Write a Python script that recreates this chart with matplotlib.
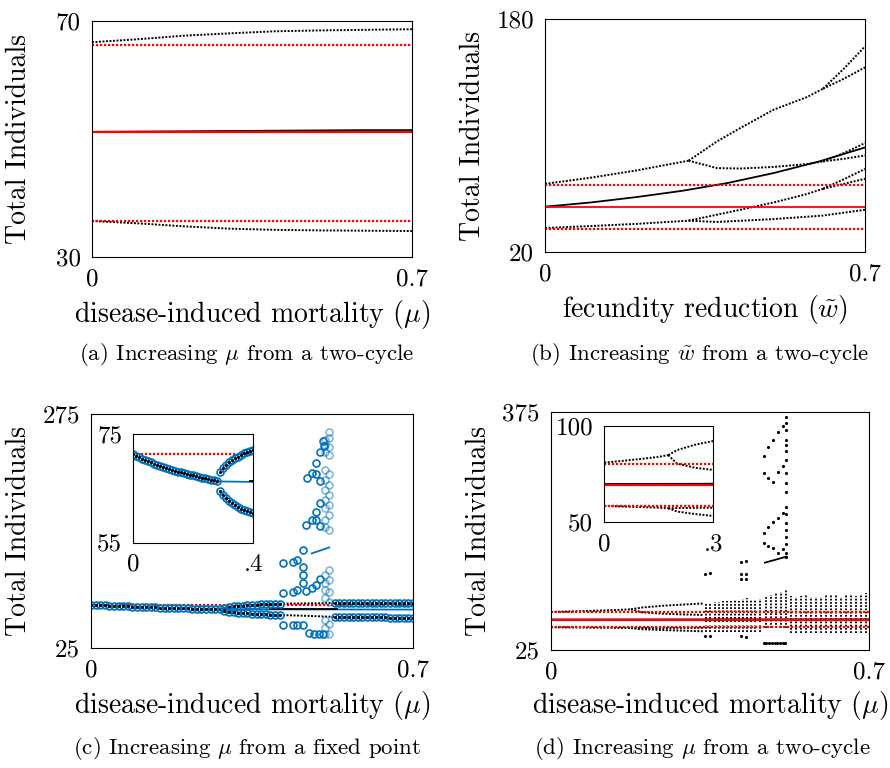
import numpy as np
import matplotlib
matplotlib.use('Agg')
import matplotlib.pyplot as plt

plt.rcParams['font.family'] = 'cmr10'
plt.rcParams['mathtext.fontset'] = 'cm'
plt.rcParams['axes.formatter.use_mathtext'] = True

BLUE = '#0072BD'
RED = '#FF0000'
DOT = (0, (1, 0.8))
FS_TICK = 18
FS_LAB = 20
FS_CAP = 16.5

# ---------------- (a) increasing mu from a two-cycle
a_mu = [0, 0.1, 0.2, 0.3, 0.4, 0.5, 0.6, 0.7]
a_upper = [66.4, 66.9, 67.5, 67.9, 68.25, 68.4, 68.5, 68.6]
a_lower = [36.1, 35.7, 35.2, 34.8, 34.6, 34.5, 34.45, 34.4]
a_mean = [51.2, 51.25, 51.3, 51.35, 51.4, 51.45, 51.5, 51.5]
a_ref = [66.0, 51.2, 36.1]   # red: upper, mean, lower of original two-cycle

# ---------------- (b) increasing w from a two-cycle
b_w_pre = [0, 0.1, 0.2, 0.314]
b_up_pre = [66.8, 71.0, 76.0, 82.7]
b_lo_pre = [36.5, 37.8, 39.3, 41.5]
b_w_mid = [0.314, 0.376, 0.427, 0.5, 0.573, 0.608]
b_A = [82.7, 95.9, 105.1, 117.7, 126.4, 132.1]
b_B = [82.7, 77.6, 77.3, 78.4, 80.4, 82.2]
b_D = [41.5, 45.6, 49.0, 54.0, 59.8, 63.4]
b_w_E = [0.314, 0.376, 0.5, 0.608, 0.7]
b_E = [41.5, 40.6, 42.6, 45.0, 49.0]
b_w_late = [0.608, 0.654, 0.7]
b_A1 = [132.1, 146.0, 161.2]
b_A2 = [132.1, 139.0, 146.8]
b_B1 = [82.2, 88.0, 94.8]
b_B2 = [82.2, 84.0, 86.3]
b_D1 = [63.4, 70.0, 77.0]
b_D2 = [63.4, 66.8, 70.3]
b_w_mean = [0, 0.1, 0.2, 0.3, 0.4, 0.5, 0.6, 0.7]
b_mean = [51.1, 54.0, 57.7, 62.0, 67.4, 74.2, 82.2, 91.8]
b_ref = [66.2, 51.1, 36.0]

# ---------------- (c) increasing mu from a fixed point
c_mu1 = np.round(np.arange(0, 0.285, 0.01), 2)
c_p1 = [71.3, 71.0, 70.8, 70.5, 70.3, 70.0, 69.8, 69.6, 69.4, 69.2,
        69.0, 68.8, 68.6, 68.5, 68.3, 68.1, 68.0, 67.8, 67.7, 67.5,
        67.4, 67.3, 67.1, 67.0, 66.9, 66.8, 66.6, 66.5, 66.4]
c_mu2 = np.round(np.arange(0.29, 0.415, 0.01), 2)
c_p2_up = [68.0, 68.8, 69.4, 69.8, 70.2, 70.6, 70.9, 71.2, 71.5, 71.7, 71.9, 72.1, 72.3]
c_p2_lo = [64.6, 63.8, 63.2, 62.7, 62.3, 61.9, 61.6, 61.3, 61.0, 60.8, 60.6, 60.4, 60.2]
c_mu3 = np.round(np.arange(0.53, 0.705, 0.01), 2)
c_p3_up = [73.0, 73.0, 73.1, 73.1, 73.1, 73.2, 73.2, 73.2, 73.3, 73.3,
           73.3, 73.3, 73.4, 73.4, 73.4, 73.5, 73.5, 73.5]
c_p3_lo = [58.2, 58.1, 58.0, 57.9, 57.9, 57.8, 57.8, 57.7, 57.7, 57.6,
           57.6, 57.6, 57.5, 57.5, 57.5, 57.5, 57.4, 57.4]
c_mu_unst2 = [0.41, 0.47, 0.53]
c_unst2_up = [72.3, 72.6, 73.0]
c_unst2_lo = [60.2, 59.3, 58.2]
c_mu_fp = [0.283, 0.7]
c_fp = [66.3, 66.0]
c_mu_fpk = [0.39, 0.535]
c_fpk = [66.4, 66.4]
c_ref = 71.3
c_chaos_mu = [0.418, 0.418, 0.418, 0.439, 0.439, 0.439, 0.449, 0.449, 0.449,
              0.460, 0.460, 0.460, 0.460, 0.460, 0.468, 0.468, 0.469, 0.473,
              0.480, 0.480, 0.480, 0.484, 0.490, 0.490, 0.490, 0.490, 0.490,
              0.498, 0.498, 0.498, 0.498, 0.498, 0.495, 0.505, 0.505, 0.507]
c_chaos_val = [115.3, 83.9, 49.3, 117.0, 84.9, 49.3, 118.9, 86.8, 49.3,
               129.5, 111.7, 102.8, 94.6, 49.3, 86.0, 156.3, 206.2, 40.5,
               88.6, 161.6, 212.2, 39.7, 92.1, 161.6, 169.9, 210.5, 222.9,
               98.2, 155.2, 179.5, 203.7, 234.7, 39.7, 39.7, 246.0, 241.0]
c_light_mu = [0.509] * 17 + [0.518] * 16
c_light_val = [247.2, 241.8, 234.4, 215.1, 204.4, 193.7, 183.0, 174.5, 161.6,
               154.1, 102.8, 94.3, 86.8, 78.2, 54.7, 46.1, 39.7,
               255.7, 249.3, 239.7, 231.1, 210.8, 199.1, 188.4, 177.7, 167.0,
               151.0, 108.2, 97.5, 84.6, 73.9, 50.4, 39.7]
c_seg_mu = [0.480, 0.518]
c_seg_val = [126.0, 132.4]

# ---------------- (d) increasing mu from a two-cycle
d_mu_pre = [0, 0.05, 0.1, 0.15, 0.176]
d_up_pre = [81.0, 81.9, 82.9, 84.0, 84.9]
d_lo_pre = [58.5, 58.2, 57.9, 57.6, 57.3]
d_mu_split = [0.176, 0.2, 0.25, 0.3, 0.335]
d_uu = [84.9, 87.5, 90.3, 92.2, 93.5]
d_ul = [84.9, 80.5, 78.3, 77.2, 76.5]
d_lu = [57.3, 57.4, 57.5, 57.6, 57.7]
d_ll = [57.3, 55.6, 54.3, 53.3, 52.5]
d_mu_mean = [0, 0.7]
d_mean = [69.9, 70.2]
d_ref = [80.4, 69.6, 58.6]
# vertical dotted bands of the chaotic region: (mu, low, high)
d_band_mu = [0.342, 0.351, 0.360, 0.369, 0.378, 0.387, 0.396, 0.405, 0.414,
             0.423, 0.432, 0.441, 0.450, 0.459,
             0.342, 0.351, 0.360, 0.369, 0.378, 0.387, 0.396, 0.405, 0.414,
             0.423, 0.432, 0.441, 0.450, 0.459,
             0.474, 0.485, 0.496, 0.507, 0.518,
             0.529, 0.540, 0.551, 0.562, 0.573, 0.584, 0.595, 0.606, 0.617,
             0.628, 0.639, 0.650, 0.661, 0.672, 0.683, 0.694]
d_band_hi = [93.7, 94.7, 96.2, 96.2, 96.7, 97.2, 97.7, 98.6, 97.7, 99.6,
             101.1, 98.6, 99.0, 100.0,
             61.8, 61.8, 61.8, 61.8, 61.8, 61.8, 61.8, 61.8, 61.8, 61.8,
             61.8, 61.8, 61.8, 61.8,
             102.5, 105.9, 109.4, 111.0, 114.7,
             104.5, 103.5, 104.5, 105.9, 103.5, 102.5, 103.5, 107.4, 107.4,
             105.9, 102.5, 107.4, 105.9, 104.5, 107.4, 109.4]
d_band_lo = [66.6] * 14 + [52.0] * 14 + [57.0] * 5 + [49.5] * 16
d_dot_mu = [0.468, 0.478, 0.489, 0.500, 0.510, 0.518,
            0.468, 0.478, 0.489, 0.500, 0.510, 0.518,
            0.518, 0.518, 0.518, 0.518, 0.518, 0.518, 0.518, 0.518,
            0.468, 0.478, 0.489, 0.500, 0.510, 0.518,
            0.468, 0.478, 0.489, 0.500, 0.510, 0.518,
            0.518, 0.518, 0.518, 0.518, 0.518, 0.518,
            0.339, 0.350, 0.419, 0.430, 0.419, 0.430, 0.419, 0.430,
            0.339, 0.350, 0.419, 0.430,
            0.468, 0.474, 0.480, 0.486, 0.492, 0.498, 0.504, 0.510, 0.516]
d_dot_val = [309.7, 322.9, 334.2, 345.0, 354.8, 367.6,
             285.1, 277.8, 272.8, 286.1, 295.9, 304.8,
             358.8, 348.9, 334.2, 326.8, 317.0, 285.1, 270.4, 258.1,
             196.8, 206.6, 213.9, 219.8, 227.2, 235.0,
             182.0, 178.6, 174.7, 168.3, 173.2, 181.0,
             225.2, 211.5, 201.7, 191.8, 167.3, 162.4,
             137.4, 138.9, 155.0, 156.4, 137.0, 137.0, 130.0, 130.0,
             45.5, 45.5, 46.0, 44.5,
             35, 35, 35, 35, 35, 35, 35, 35, 35]
d_seg_mu = [0.471, 0.518]
d_seg_val = [153.5, 162.3]


def dotted(ax, x, y, color='k', lw=1.4):
    ax.plot(x, y, color=color, ls=DOT, lw=lw)


def frame(ax, xlim, ylim, xt, yt, pad=8):
    ax.set_xlim(xlim)
    ax.set_ylim(ylim)
    ax.set_xticks(xlim)
    ax.set_xticklabels(xt)
    ax.set_yticks(ylim)
    ax.set_yticklabels(yt)
    ax.tick_params(length=0, labelsize=FS_TICK, pad=pad)
    for s in ax.spines.values():
        s.set_linewidth(0.8)


def circles(ax, x, y, alpha=1.0):
    ax.plot(x, y, 'o', mfc='none', mec=BLUE, ms=5, mew=1.2, alpha=alpha)


def labels(ax, xlab, ylx, xly):
    ax.set_ylabel('Total Individuals', fontsize=FS_LAB)
    ax.yaxis.set_label_coords(ylx, 0.5)
    ax.set_xlabel(xlab, fontsize=FS_LAB)
    ax.xaxis.set_label_coords(0.5, xly)


fig = plt.figure(figsize=(8.9, 7.68), dpi=100)

# (a)
ax = fig.add_axes([0.1034, 0.6654, 0.3596, 0.3073])
dotted(ax, a_mu, a_upper)
dotted(ax, a_mu, a_lower)
ax.plot(a_mu, a_mean, color='k', lw=1.3)
ax.axhline(a_ref[0], color=RED, ls=DOT, lw=1.6)
ax.axhline(a_ref[2], color=RED, ls=DOT, lw=1.6)
ax.axhline(a_ref[1], color=RED, lw=1.6)
frame(ax, (0, 0.7), (30, 70), ['0', '0.7'], ['30', '70'])
labels(ax, r'disease-induced mortality ($\mu$)', -0.188, -0.173)

# (b)
ax = fig.add_axes([0.6124, 0.6719, 0.3596, 0.3034])
dotted(ax, b_w_pre, b_up_pre)
dotted(ax, b_w_pre, b_lo_pre)
for br in (b_A, b_B, b_D):
    dotted(ax, b_w_mid, br)
dotted(ax, b_w_E, b_E)
for br in (b_A1, b_A2, b_B1, b_B2, b_D1, b_D2):
    dotted(ax, b_w_late, br)
ax.plot(b_w_mean, b_mean, color='k', lw=1.3)
ax.axhline(b_ref[0], color=RED, ls=DOT, lw=1.6)
ax.axhline(b_ref[2], color=RED, ls=DOT, lw=1.6)
ax.axhline(b_ref[1], color=RED, lw=1.3)
frame(ax, (0, 0.7), (20, 180), ['0', '0.7'], ['20', '180'])
labels(ax, r'fecundity reduction ($\tilde{w}$)', -0.185, -0.176)


def panel_c(ax):
    ax.axhline(c_ref, color=RED, ls=DOT, lw=1.6)
    ax.plot(c_mu_fp, c_fp, color=BLUE, lw=1.3)
    ax.plot(c_mu_fpk, c_fpk, color='k', lw=1.3)
    dotted(ax, c_mu_unst2, c_unst2_up)
    dotted(ax, c_mu_unst2, c_unst2_lo)
    for x, y in ((c_mu1, c_p1), (c_mu2, c_p2_up), (c_mu2, c_p2_lo),
                 (c_mu3, c_p3_up), (c_mu3, c_p3_lo)):
        circles(ax, x, y)
        ax.plot(x, y, '.', color='k', ms=2.5)


# (c)
ax = fig.add_axes([0.1022, 0.1563, 0.3618, 0.3047])
panel_c(ax)
circles(ax, c_chaos_mu, c_chaos_val)
circles(ax, c_light_mu, c_light_val, alpha=0.5)
ax.plot(c_seg_mu, c_seg_val, color=BLUE, lw=1.3)
frame(ax, (0, 0.7), (25, 275), ['0', '0.7'], ['25', '275'])
labels(ax, r'disease-induced mortality ($\mu$)', -0.183, -0.175)

axi = fig.add_axes([0.1498, 0.2934, 0.1348, 0.1411])
panel_c(axi)
frame(axi, (0, 0.4), (55, 75), ['0', '.4'], ['55', '75'])


def panel_d(ax):
    ax.vlines(d_band_mu, d_band_lo, d_band_hi, colors='k', linestyles=[DOT], lw=1.3)
    ax.plot(d_dot_mu, d_dot_val, '.', color='k', ms=2.5)
    ax.plot(d_seg_mu, d_seg_val, color='k', lw=1.3)
    dotted(ax, d_mu_pre, d_up_pre)
    dotted(ax, d_mu_pre, d_lo_pre)
    for br in (d_uu, d_ul, d_lu, d_ll):
        dotted(ax, d_mu_split, br)
    ax.plot(d_mu_mean, d_mean, color='k', lw=1.3)
    ax.axhline(d_ref[0], color=RED, ls=DOT, lw=1.6)
    ax.axhline(d_ref[2], color=RED, ls=DOT, lw=1.6)
    ax.axhline(d_ref[1], color=RED, lw=1.6)


# (d)
ax = fig.add_axes([0.6191, 0.1536, 0.3573, 0.3099])
panel_d(ax)
frame(ax, (0, 0.7), (25, 375), ['0', '0.7'], ['25', '375'])
labels(ax, r'disease-induced mortality ($\mu$)', -0.186, -0.164)

axi = fig.add_axes([0.679, 0.3199, 0.1225, 0.1254])
panel_d(axi)
frame(axi, (0, 0.3), (50, 100), ['0', '.3'], ['50', '100'])

fig.text(247 / 890, 1 - 355 / 768, r'(a) Increasing $\mu$ from a two-cycle',
         ha='center', va='center', fontsize=FS_CAP)
fig.text(700 / 890, 1 - 355 / 768, r'(b) Increasing $\tilde{w}$ from a two-cycle',
         ha='center', va='center', fontsize=FS_CAP)
fig.text(247 / 890, 1 - 748 / 768, r'(c) Increasing $\mu$ from a fixed point',
         ha='center', va='center', fontsize=FS_CAP)
fig.text(702 / 890, 1 - 748 / 768, r'(d) Increasing $\mu$ from a two-cycle',
         ha='center', va='center', fontsize=FS_CAP)

fig.savefig('out.png', dpi=100, facecolor='white')
